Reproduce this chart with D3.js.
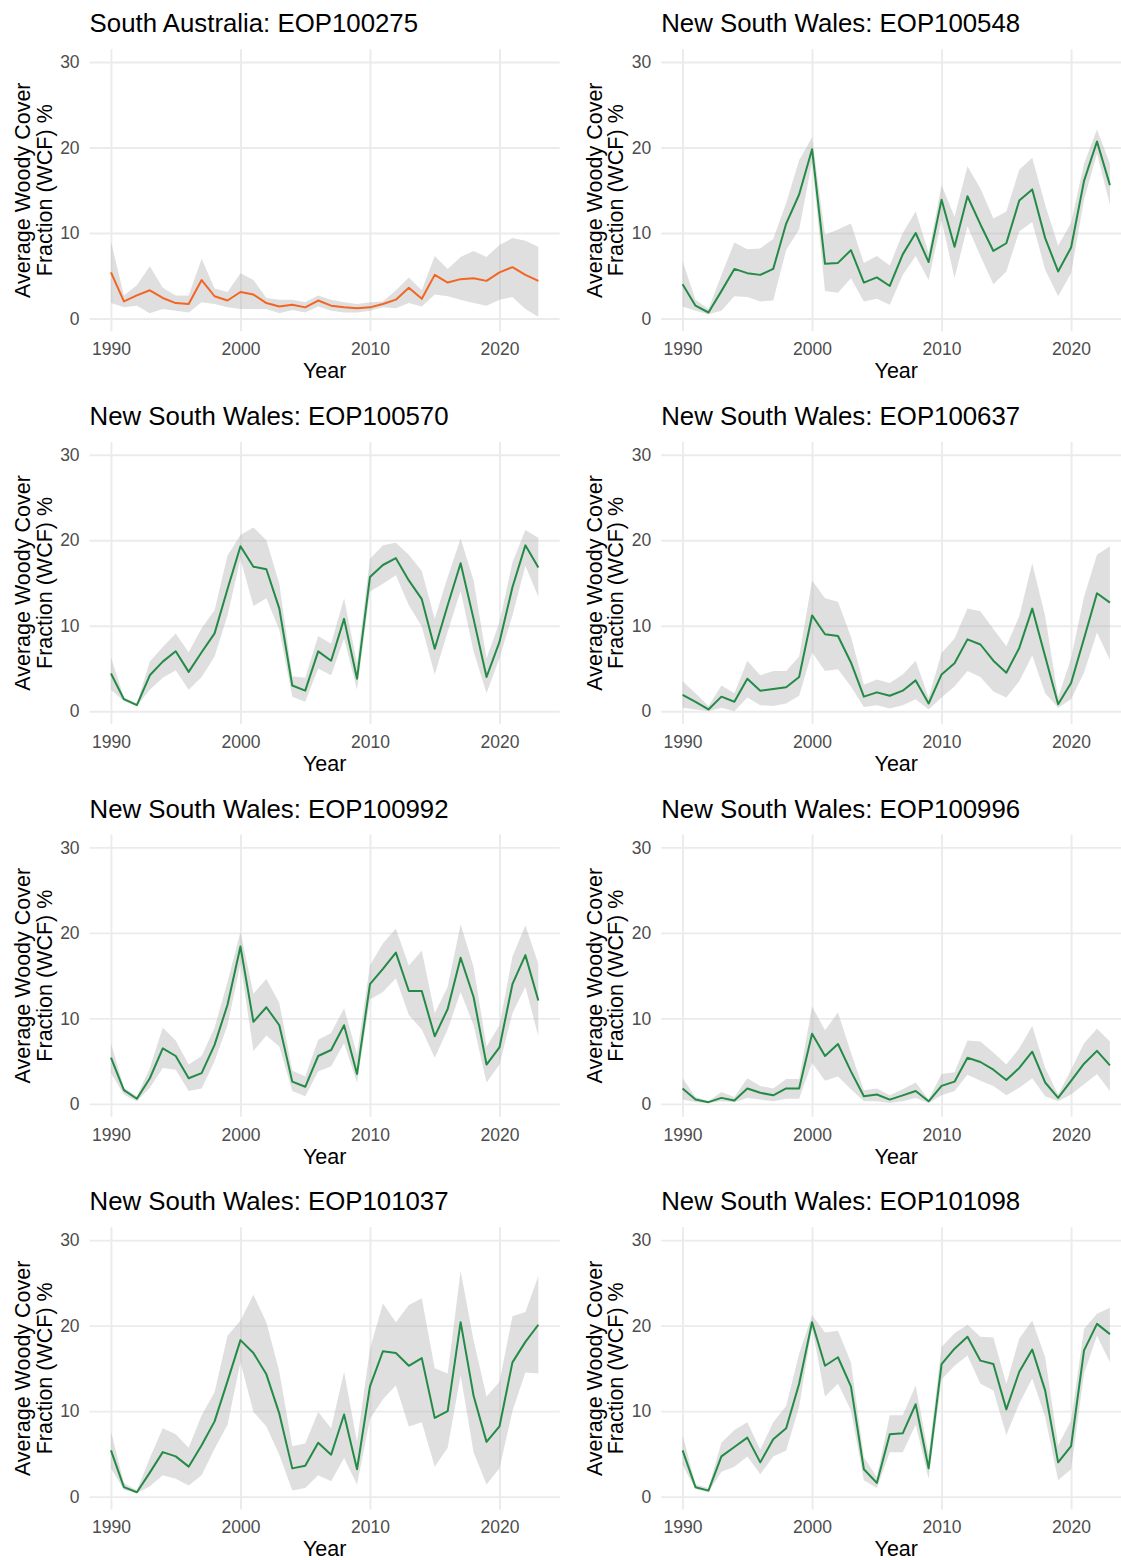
<!DOCTYPE html>
<html>
<head>
<meta charset="utf-8">
<script src="https://cdn.jsdelivr.net/npm/d3@7"></script>
<style>
  body { margin: 0; background: #fff; }
  text { font-family: "Liberation Sans", Arial, sans-serif; }
</style>
</head>
<body>
<div id="chart"></div>
<script>
// years shared by every site
const years = d3.range(1990, 2024);

// South Australia: EOP100275
const meanEOP100275 = [5.4,2.0,2.7,3.3,2.4,1.8,1.7,4.5,2.6,2.1,3.1,2.8,1.8,1.4,1.6,1.3,2.1,1.5,1.3,1.2,1.3,1.7,2.2,3.6,2.3,5.1,4.2,4.6,4.7,4.4,5.4,6.0,5.1,4.4];
const upperEOP100275 = [9.0,2.7,3.9,6.1,3.6,2.7,2.7,7.0,3.5,3.1,5.3,4.5,2.4,2.2,2.2,1.9,2.7,2.2,1.9,1.7,1.9,2.0,3.3,4.8,3.3,7.3,5.8,7.2,7.9,7.2,8.6,9.4,9.1,8.4];
const lowerEOP100275 = [1.8,1.3,1.5,0.6,1.1,0.9,0.7,1.9,1.7,1.3,1.1,1.1,1.1,0.6,1.0,0.7,1.4,0.9,0.7,0.7,0.9,1.3,1.2,1.8,1.4,2.8,2.6,2.2,1.8,1.5,2.2,2.5,1.1,0.2];

// New South Wales: EOP100548
const meanEOP100548 = [4.0,1.5,0.7,3.2,5.8,5.3,5.1,5.8,11.1,14.5,19.8,6.4,6.5,8.0,4.2,4.8,3.8,7.5,10.0,6.6,13.9,8.4,14.3,11.0,7.9,8.8,13.8,15.1,9.4,5.5,8.3,16.1,20.7,15.6];
const upperEOP100548 = [6.7,2.2,1.1,5.1,8.9,8.1,8.2,9.3,13.5,18.5,21.2,9.8,10.4,11.1,6.5,7.3,6.2,10.0,12.5,7.7,15.6,11.9,17.8,15.2,11.7,12.5,17.4,18.8,13.3,8.5,11.2,18.1,22.1,18.1];
const lowerEOP100548 = [1.4,0.9,0.5,0.9,2.6,2.5,2.0,2.1,8.0,10.4,18.3,3.2,3.0,4.7,2.0,2.3,1.6,5.1,7.3,4.5,11.5,4.7,10.8,7.3,4.0,5.5,10.2,11.3,5.7,2.6,5.3,13.9,19.3,13.3];

// New South Wales: EOP100570
const meanEOP100570 = [4.4,1.4,0.7,4.2,5.8,7.0,4.6,6.9,9.1,14.3,19.3,16.9,16.6,12.0,3.0,2.4,7.0,5.9,10.8,3.8,15.7,17.1,17.9,15.3,13.1,7.3,12.4,17.3,10.8,4.0,8.1,14.5,19.4,16.8];
const upperEOP100570 = [6.3,1.6,0.9,5.8,7.5,9.1,6.9,9.7,11.8,18.2,20.6,21.5,20.0,14.9,4.1,3.9,8.8,7.9,13.2,5.6,17.8,19.4,19.7,18.3,16.4,10.8,15.7,20.2,15.3,6.2,10.4,17.4,21.2,20.3];
const lowerEOP100570 = [2.5,1.2,0.6,2.5,3.9,4.8,2.5,4.0,6.4,11.2,17.8,12.3,13.2,9.5,1.7,1.1,5.0,4.2,8.5,2.5,14.0,14.9,15.9,12.4,9.9,4.3,9.3,14.1,7.0,2.1,6.2,11.2,17.0,13.4];

// New South Wales: EOP100637
const meanEOP100637 = [1.9,1.1,0.2,1.7,1.1,3.8,2.4,2.6,2.8,4.0,11.2,9.0,8.8,5.7,1.7,2.2,1.8,2.4,3.6,0.9,4.3,5.6,8.4,7.8,5.9,4.5,7.4,12.0,6.4,0.8,3.3,8.5,13.8,12.7];
const upperEOP100637 = [3.5,2.1,0.6,3.0,2.1,5.9,4.2,4.7,4.7,6.4,15.3,13.2,12.8,8.7,3.1,3.7,3.3,4.3,5.9,1.6,6.8,8.5,12.0,11.7,9.6,7.6,11.1,17.3,11.1,1.6,6.2,13.4,18.3,19.3];
const lowerEOP100637 = [0.4,0.2,0.0,0.4,0.0,1.6,0.7,0.6,0.9,1.8,6.9,4.7,4.9,2.9,0.5,0.7,0.3,0.7,1.4,0.2,1.6,2.9,4.7,4.0,2.3,1.6,3.5,6.5,2.1,0.4,1.4,4.5,9.2,6.0];

// New South Wales: EOP100992
const meanEOP100992 = [5.4,1.6,0.6,3.0,6.5,5.6,3.0,3.6,6.9,11.6,18.4,9.6,11.3,9.2,2.6,2.0,5.6,6.3,9.2,3.5,14.0,15.8,17.7,13.2,13.2,7.9,11.1,17.1,12.5,4.6,6.6,14.0,17.4,12.1];
const upperEOP100992 = [7.1,1.9,0.9,4.2,8.9,7.4,4.6,5.6,8.9,14.3,20.1,12.9,14.6,11.8,3.9,3.2,7.5,8.3,11.2,5.8,16.2,18.8,20.5,16.2,17.9,10.6,13.7,21.0,16.0,6.7,9.2,17.2,20.9,16.4];
const lowerEOP100992 = [3.6,1.1,0.3,1.9,4.2,4.0,1.5,1.8,5.0,9.2,16.4,6.2,8.0,6.7,1.5,0.9,3.8,4.4,7.1,2.5,12.2,13.1,14.7,10.4,8.7,5.4,8.7,13.1,9.2,2.5,4.6,10.6,13.7,7.9];

// New South Wales: EOP100996
const meanEOP100996 = [1.8,0.5,0.2,0.7,0.4,1.8,1.3,1.0,1.8,1.8,8.2,5.6,7.0,3.8,0.9,1.1,0.5,1.0,1.5,0.3,2.1,2.6,5.4,4.9,4.0,2.8,4.2,6.1,2.5,0.7,2.7,4.7,6.2,4.5];
const upperEOP100996 = [3.0,0.8,0.3,1.4,0.8,3.0,2.1,1.8,2.9,2.9,11.4,8.6,10.7,6.0,1.6,1.8,1.0,1.7,2.5,0.5,3.5,3.7,7.4,7.3,6.0,4.6,6.5,9.1,4.2,1.1,4.0,7.1,8.8,7.3];
const lowerEOP100996 = [0.5,0.2,0.1,0.3,0.2,0.7,0.5,0.3,0.6,0.6,4.8,2.7,3.2,1.7,0.3,0.3,0.1,0.3,0.7,0.1,1.0,1.5,3.4,2.7,2.1,1.0,1.9,3.0,0.9,0.3,1.1,2.3,3.5,1.5];

// New South Wales: EOP101037
const meanEOP101037 = [5.4,1.1,0.5,2.8,5.2,4.7,3.5,6.0,8.8,13.5,18.3,16.8,14.3,9.7,3.3,3.6,6.3,4.9,9.6,3.2,12.9,17.0,16.8,15.3,16.2,9.2,10.0,20.4,11.8,6.4,8.2,15.7,18.1,20.1];
const upperEOP101037 = [7.6,1.6,0.7,4.5,8.0,7.3,5.7,9.5,12.2,18.8,20.6,23.6,20.4,14.6,5.9,6.2,9.9,8.0,14.6,6.4,17.3,22.6,20.4,22.4,23.2,15.0,14.4,26.4,18.3,11.7,13.4,21.1,21.6,25.8];
const lowerEOP101037 = [3.3,0.8,0.4,1.2,2.5,2.1,1.3,2.5,5.6,8.4,15.7,9.9,8.2,4.9,0.7,1.0,2.5,1.8,4.5,1.4,9.1,11.4,13.0,8.2,8.7,3.5,5.7,14.2,5.2,1.4,3.3,10.0,14.5,14.4];

// New South Wales: EOP101098
const meanEOP101098 = [5.4,1.1,0.7,4.7,5.8,6.9,4.0,6.7,8.0,13.2,20.4,15.3,16.3,12.9,3.2,1.6,7.3,7.4,10.8,3.3,15.5,17.3,18.7,15.9,15.5,10.2,14.6,17.2,12.4,4.0,5.9,17.1,20.2,19.0];
const upperEOP101098 = [7.2,1.4,1.0,6.3,7.8,8.7,5.5,8.7,10.6,16.7,21.2,19.2,19.4,15.7,4.6,2.3,9.5,9.5,13.0,4.9,17.5,19.1,20.1,18.7,18.6,13.2,18.5,20.6,16.3,6.0,8.9,19.6,21.4,22.1];
const lowerEOP101098 = [3.7,0.9,0.5,2.9,3.5,4.7,2.6,4.7,5.4,10.5,19.8,11.7,13.2,10.1,1.9,1.0,5.2,5.2,8.4,2.1,13.7,15.3,16.5,13.2,12.4,7.2,10.9,13.8,9.3,1.9,3.2,14.4,18.8,15.7];

const titles = ["South Australia: EOP100275", "New South Wales: EOP100548",
  "New South Wales: EOP100570", "New South Wales: EOP100637",
  "New South Wales: EOP100992", "New South Wales: EOP100996",
  "New South Wales: EOP101037", "New South Wales: EOP101098"];
const means = [meanEOP100275, meanEOP100548, meanEOP100570, meanEOP100637, meanEOP100992, meanEOP100996, meanEOP101037, meanEOP101098];
const uppers = [upperEOP100275, upperEOP100548, upperEOP100570, upperEOP100637, upperEOP100992, upperEOP100996, upperEOP101037, upperEOP101098];
const lowers = [lowerEOP100275, lowerEOP100548, lowerEOP100570, lowerEOP100637, lowerEOP100992, lowerEOP100996, lowerEOP101037, lowerEOP101098];
const lineColours = ["#f26522", "#238b45", "#238b45", "#238b45", "#238b45", "#238b45", "#238b45", "#238b45"];

const xTicks = [1990, 2000, 2010, 2020];
const yTicks = [0, 10, 20, 30];

const width = 1121, height = 1560;
const colLeft = [89.6, 661.2];
const panelW = 470.1, panelH = 282.1;
const rowTop = 49.2, rowStep = 392.7;

const svg = d3.select("#chart").append("svg")
    .attr("width", width).attr("height", height)
    .style("background", "#fff");

const x = d3.scaleLinear().domain([1988.35, 2024.65]).range([0, panelW]);
const y = d3.scaleLinear().domain([-1.5, 31.5]).range([panelH, 0]);

titles.forEach((title, i) => {
  const col = i % 2, row = Math.floor(i / 2);
  const g = svg.append("g")
      .attr("transform", `translate(${colLeft[col]},${rowTop + row * rowStep})`);

  const pts = years.map((yr, k) => ({ year: yr, mean: means[i][k], lo: lowers[i][k], hi: uppers[i][k] }));

  // grid + tick labels
  const yAxis = g.append("g")
      .call(d3.axisLeft(y).tickValues(yTicks).tickSize(-panelW).tickPadding(10));
  const xAxis = g.append("g")
      .attr("transform", `translate(0,${panelH})`)
      .call(d3.axisBottom(x).tickValues(xTicks).tickFormat(d3.format("d")).tickSize(-panelH).tickPadding(11.6));
  [yAxis, xAxis].forEach(a => {
    a.select(".domain").remove();
    a.selectAll(".tick line").attr("stroke", "#ebebeb").attr("stroke-width", 1.9);
    a.selectAll(".tick text")
        .attr("fill", "#4d4d4d")
        .style("font-size", "17.5px")
        .style("font-family", "'Liberation Sans', Arial, sans-serif");
  });

  // ribbon
  g.append("path")
      .datum(pts)
      .attr("fill", "#b3b3b3")
      .attr("fill-opacity", 0.42)
      .attr("d", d3.area().x(d => x(d.year)).y0(d => y(d.lo)).y1(d => y(d.hi)));

  // mean line
  g.append("path")
      .datum(pts)
      .attr("fill", "none")
      .attr("stroke", lineColours[i])
      .attr("stroke-width", 2)
      .attr("stroke-linejoin", "round")
      .attr("d", d3.line().x(d => x(d.year)).y(d => y(d.mean)));

  // title
  g.append("text")
      .attr("x", 0).attr("y", -17)
      .style("font-size", "25.8px")
      .attr("fill", "#000")
      .text(title);

  // x axis title
  g.append("text")
      .attr("x", panelW / 2).attr("y", panelH + 47)
      .attr("text-anchor", "middle")
      .style("font-size", "21.5px")
      .text("Year");

  // y axis title (two lines)
  const yt = g.append("text")
      .attr("transform", `translate(-38,${panelH / 2}) rotate(-90)`)
      .attr("text-anchor", "middle")
      .style("font-size", "21.5px");
  yt.append("tspan").attr("x", 0).attr("y", -21.5).text("Average Woody Cover");
  yt.append("tspan").attr("x", 0).attr("y", 0).text("Fraction (WCF) %");
});
</script>
</body>
</html>
